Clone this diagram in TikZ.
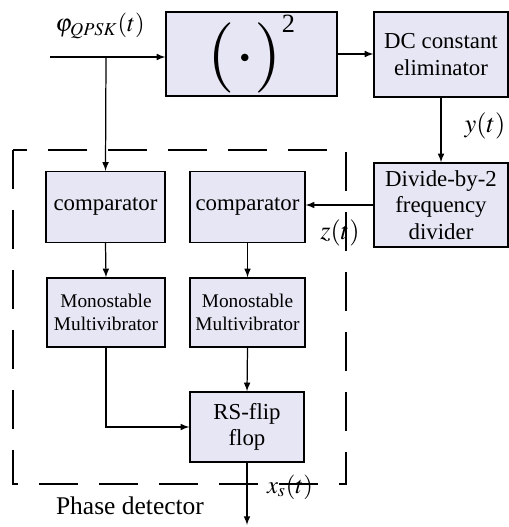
\documentclass[tikz,border=0pt]{standalone}
\usepackage{mathptmx}
\usepackage{fontspec}
\setmainfont{Liberation Serif}
\usetikzlibrary{calc}
\definecolor{boxfill}{RGB}{230,230,244}
\begin{document}
\begin{tikzpicture}[x=0.02cm,y=-0.02cm,>=latex,
		blocco/.style={draw, line width=0.8pt, fill=boxfill, align=center,
			inner sep=1pt, font=\fontsize{13}{15}\selectfont},
		piccolo/.style={blocco, font=\fontsize{11}{13}\selectfont},
		segnale/.style={line width=0.7pt},
		riquadro/.style={line width=0.8pt, dash pattern=on 0.78cm off 0.42cm},
		]
		\useasboundingbox (0,0) rectangle (509,527);
		% ── Catena superiore ──
		\node[blocco, minimum width=3.42cm, minimum height=1.68cm] (quad) at (251.5,54)
			{\fontsize{40}{40}\selectfont$(\cdot)$\raisebox{24pt}{\fontsize{15}{15}\selectfont 2}};
		\node[blocco, minimum width=2.68cm, minimum height=1.70cm] (dc) at (441,54.5)
			{DC constant\\eliminator};
		\node[blocco, minimum width=2.68cm, minimum height=1.68cm] (div) at (441,205)
			{Divide-by-2\\frequency\\divider};
		% ── Rivelatore di fase ──
		\node[blocco, minimum width=2.38cm, minimum height=1.42cm] (cmpA) at (105.5,207) {comparator};
		\node[blocco, minimum width=2.30cm, minimum height=1.42cm] (cmpB) at (247.5,207) {comparator};
		\node[piccolo, minimum width=2.36cm, minimum height=1.38cm] (monoA) at (106,312.5)
			{Monostable\\Multivibrator};
		\node[piccolo, minimum width=2.30cm, minimum height=1.38cm] (monoB) at (247.5,312.5)
			{Monostable\\Multivibrator};
		\node[blocco, minimum width=2.28cm, minimum height=1.40cm] (rs) at (247,427)
			{RS-flip\\flop};
		\draw[riquadro] (13,150) rectangle (346,484);
		% ── Collegamenti ──
		\coordinate (ingresso) at (50,57);
		\coordinate (nodoA) at (106,57);
		\coordinate (uscita) at (247,525);
		\draw[segnale,->] (ingresso) -- (ingresso -| quad.west);
		\draw[segnale,->] (nodoA) -- (cmpA.north);
		\draw[segnale,->] (quad.east) -- (quad.east -| dc.west);
		\draw[segnale,->] (dc.south) -- (div.north);
		\draw[segnale,->] (div.west) -- (div.west -| cmpB.east);
		\draw[segnale,->] (cmpA.south) -- (monoA.north);
		\draw[segnale,->] (cmpB.south) -- (monoB.north);
		\draw[segnale,->] (monoB.south) -- (rs.north);
		\draw[segnale,->] (monoA.south) |- (rs.west);
		\draw[segnale,->] (rs.south) -- (uscita);
		% ── Etichette ──
		\node[font=\fontsize{14}{14}\selectfont] (lphi) at (100,26) {$\varphi_{QPSK}(t)$};
		\node[font=\fontsize{15}{15}\selectfont] (ly) at (485,126) {$y(t)$};
		\node[font=\fontsize{15}{15}\selectfont] (lz) at (340,233) {$z(t)$};
		\node[font=\fontsize{14}{14}\selectfont] (lx) at (290,487) {$x_s(t)$};
		\node[font=\fontsize{14.5}{15}\selectfont] (lfase) at (130,506) {Phase detector};
\end{tikzpicture}
\end{document}
